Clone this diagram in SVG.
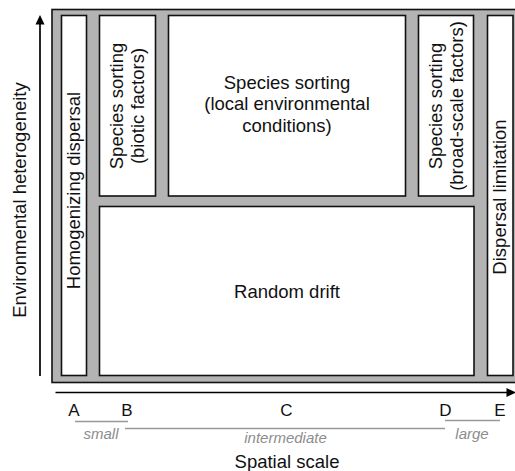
<svg xmlns="http://www.w3.org/2000/svg" width="515" height="471" viewBox="0 0 515 471">
<style>
text { font-family: "Liberation Sans", Arial, sans-serif; fill: #111; }
.box { fill: #fff; stroke: #111; stroke-width: 1.6; }
.frame { fill: #b3b3b3; stroke: #111; stroke-width: 1.6; }
.lbl { font-size: 18.5px; text-anchor: middle; }
.ax { font-size: 18.5px; text-anchor: middle; }
.pt { font-size: 17px; text-anchor: middle; }
.rng { font-size: 15px; font-style: italic; fill: #8c8c8c; text-anchor: middle; }
.rl { stroke: #999; stroke-width: 1.5; fill: none; }
.axis { stroke: #000; stroke-width: 1.7; fill: none; }
</style>
<rect class="frame" x="52" y="9.5" width="470" height="373"/>
<g id="homogenizing">
<rect class="box" x="61.5" y="15.5" width="25" height="360"/>
<text class="lbl" transform="translate(80,190.5) rotate(-90)">Homogenizing dispersal</text>
</g>
<g id="biotic">
<rect class="box" x="99.5" y="15.5" width="56" height="180.5"/>
<text class="lbl" transform="translate(123,106) rotate(-90)">Species sorting</text>
<text class="lbl" transform="translate(143.5,106) rotate(-90)">(biotic factors)</text>
</g>
<g id="local">
<rect class="box" x="168.5" y="15.5" width="237" height="180.5"/>
<text class="lbl" x="287" y="88.5">Species sorting</text>
<text class="lbl" x="287" y="110">(local environmental</text>
<text class="lbl" x="287" y="131.5">conditions)</text>
</g>
<g id="broad">
<rect class="box" x="418.5" y="15.5" width="55" height="180.5"/>
<text class="lbl" transform="translate(441.5,106) rotate(-90)">Species sorting</text>
<text class="lbl" transform="translate(462.5,106) rotate(-90)">(broad-scale factors)</text>
</g>
<g id="dispersal">
<rect class="box" x="487.5" y="15.5" width="25.5" height="360"/>
<text class="lbl" transform="translate(505.5,197) rotate(-90)">Dispersal limitation</text>
</g>
<g id="drift">
<rect class="box" x="99.5" y="206.5" width="374.5" height="169"/>
<text class="lbl" x="287" y="297.5">Random drift</text>
</g>
<g id="connectors">
<line class="axis" x1="40" y1="376" x2="40" y2="22"/>
<polygon points="40,15 35.5,24.5 44.5,24.5" fill="#000"/>
<line class="axis" x1="55.5" y1="392.5" x2="508" y2="392.5"/>
<polygon points="516,392.5 506.5,388 506.5,397" fill="#000"/>
<line class="rl" x1="75" y1="421.5" x2="128" y2="421.5"/>
<line class="rl" x1="125" y1="428.5" x2="445" y2="428.5"/>
<line class="rl" x1="445" y1="420.5" x2="500" y2="420.5"/>
</g>
<g id="labels">
<text class="ax" transform="translate(25.5,200) rotate(-90)">Environmental heterogeneity</text>
<text class="ax" x="287" y="468">Spatial scale</text>
<text class="pt" x="74" y="416">A</text>
<text class="pt" x="127" y="416">B</text>
<text class="pt" x="286.5" y="416">C</text>
<text class="pt" x="445.5" y="416">D</text>
<text class="pt" x="500" y="416">E</text>
<text class="rng" x="101" y="439">small</text>
<text class="rng" x="285.5" y="442.5">intermediate</text>
<text class="rng" x="472" y="439">large</text>
</g>
</svg>
